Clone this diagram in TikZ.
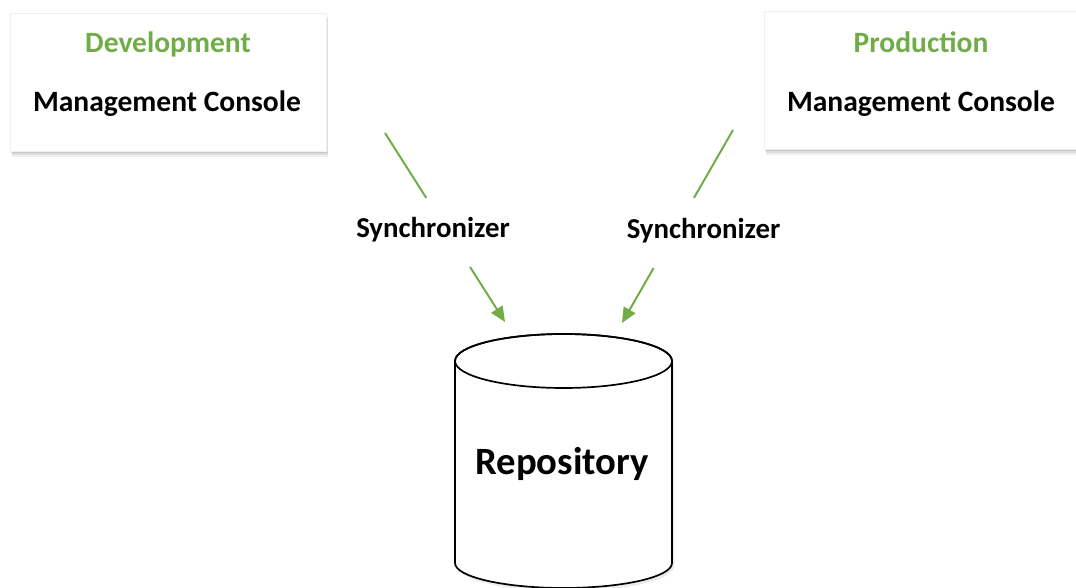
\documentclass[tikz,border=0pt]{standalone}
\usepackage{fontspec}
\setmainfont{Carlito}
\usetikzlibrary{arrows.meta}
\usetikzlibrary{calc}
\usetikzlibrary{shadows}

\definecolor{syncgreen}{RGB}{112,173,71}

\tikzset{
  console/.style={fill=white, draw=black!6, inner sep=0pt,
    minimum width=7.9cm, minimum height=3.45cm,
    drop shadow={shadow xshift=0.06cm, shadow yshift=-0.16cm, fill=black, opacity=0.06},
    drop shadow={shadow xshift=0.05cm, shadow yshift=-0.11cm, fill=black, opacity=0.08},
    drop shadow={shadow xshift=0.03cm, shadow yshift=-0.06cm, fill=black, opacity=0.10}},
  title/.style={anchor=base, text=syncgreen, font=\bfseries\fontsize{21}{24}\selectfont},
  consolename/.style={anchor=base, text=black, font=\bfseries\fontsize{21}{24}\selectfont},
  synctext/.style={anchor=base, text=black, font=\bfseries\fontsize{20.5}{24}\selectfont},
  repotext/.style={anchor=base, text=black, font=\bfseries\fontsize{27.5}{30}\selectfont},
  syncline/.style={draw=syncgreen, line width=1.4pt},
  syncarrow/.style={syncline, -{Triangle[length=0.38cm, width=0.33cm, fill=syncgreen]}},
  repoline/.style={draw=black, line width=1.2pt}
}

\begin{document}
\begin{tikzpicture}[x=0.025cm, y=0.025cm]
\useasboundingbox (0,0) rectangle (1076,587);
\fill[white] (0,0) rectangle (1076,587);

% consoles
\node[console] (dev) at (168,505) {};
\node[console] (prod) at (922,507) {};
\node[title] (devtitle) at (168,534) {Development};
\node[consolename] (devname) at (167,475) {Management Console};
\node[title] (prodtitle) at (921,534) {Production};
\node[consolename] (prodname) at (921,475) {Management Console};

% repository
\draw[repoline, fill=white,
  drop shadow={shadow xshift=0.05cm, shadow yshift=-0.08cm, fill=black, opacity=0.08}]
  (455,226) -- (455,24) arc[start angle=180, end angle=360, x radius=108.5, y radius=25]
  -- (672,226) arc[start angle=0, end angle=180, x radius=108.5, y radius=27] -- cycle;
\draw[repoline] (563.5,226) ellipse[x radius=108.5, y radius=27];
\node[repotext] (repo) at (562,113) {Repository};

% synchronizers
\coordinate (devtail) at (385,454);
\coordinate (devhead) at (505,265);
\coordinate (prodtail) at (733,457);
\coordinate (prodhead) at (622,264);
\node[synctext] (devsync) at (433,350) {Synchronizer};
\node[synctext] (prodsync) at (703.5,349) {Synchronizer};
\draw[syncline] (devtail) -- ($(devtail)!0.344!(devhead)$);
\draw[syncarrow] ($(devtail)!0.709!(devhead)$) -- (devhead);
\draw[syncline] (prodtail) -- ($(prodtail)!0.352!(prodhead)$);
\draw[syncarrow] ($(prodtail)!0.715!(prodhead)$) -- (prodhead);
\end{tikzpicture}
\end{document}
